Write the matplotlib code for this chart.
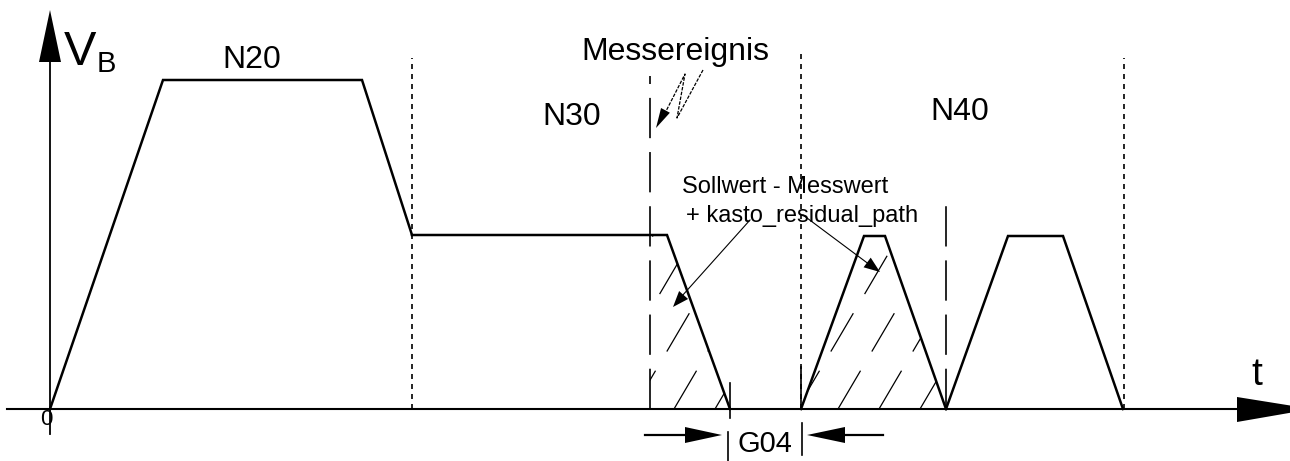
import numpy as np
import matplotlib.pyplot as plt
from matplotlib.patches import Polygon

plt.rcParams['font.family'] = ['Liberation Sans', 'DejaVu Sans']
plt.rcParams['lines.scale_dashes'] = False

# velocity profile per block (t, v)
n20_t = [0, 113, 312, 362]
n20_v = [0, 329, 329, 174]
n30_t = [362, 617, 680]
n30_v = [174, 174, 0]
n40a_t = [751, 814, 835, 896]
n40a_v = [0, 173, 173, 0]
n40b_t = [896, 958, 1013, 1073]
n40b_v = [0, 173, 173, 0]

# block boundaries (dotted) and event / dwell markers (long dash)
block_t = [362, 751, 1074]
block_top = [351, 357, 351]
event_t = 600      # Messereignis
dwell_end_t = 896  # end of G04 dwell

k = 'black'


def head(ax, tail, tip, length=18, half=5):
    # filled arrow head pointing from tail to tip
    tail = np.array(tail, float)
    tip = np.array(tip, float)
    u = (tip - tail) / np.hypot(*(tip - tail))
    p = np.array([u[1], -u[0]]) * half
    base = tip - u * length
    ax.add_patch(Polygon([tip, base + p, base - p], closed=True, color=k, lw=0))


fig = plt.figure(figsize=(12.9, 4.61), dpi=100)
ax = fig.add_axes([0, 0, 1, 1])
ax.set_xlim(-50, 1240)
ax.set_ylim(-52, 409)
ax.axis('off')

# axes with arrow heads
ax.plot([-43, 1190], [0, 0], color=k, lw=1.5)
ax.add_patch(Polygon([(1187, 12), (1187, -13), (1262, 0)], closed=True, color=k, lw=0))
ax.plot([0, 0], [-25, 350], color=k, lw=1.3)
ax.add_patch(Polygon([(-11, 347), (11, 347), (0, 399)], closed=True, color=k, lw=0))

ax.text(14, 344, 'V', fontsize=35, ha='left', va='baseline')
ax.text(47, 337, 'B', fontsize=21, ha='left', va='baseline')
ax.text(1207, 24, 't', fontsize=28, ha='center', va='baseline')
ax.text(-4, -10, '0', fontsize=16, ha='center', va='center')

# velocity profile
for t, v in [(n20_t, n20_v), (n30_t, n30_v), (n40a_t, n40a_v), (n40b_t, n40b_v)]:
    ax.plot(t, v, color=k, lw=1.8, solid_joinstyle='miter')

# block boundaries
for t, top in zip(block_t, block_top):
    ax.plot([t, t], [0, top], color=k, lw=1.2, linestyle=(0, (3.6, 3.6)))
ax.plot([751, 751], [0, 42], color=k, lw=1.2)
ax.plot([680, 680], [-9, 26], color=k, lw=1.2)

# measuring event and dwell end
ax.plot([event_t, event_t], [0, 333], color=k, lw=1.2, linestyle=(0, (29, 10)))
ax.plot([dwell_end_t, dwell_end_t], [0, 212], color=k, lw=1.2, linestyle=(0, (29, 10)))

# hatched residual path areas
regions = [
    [(event_t, 0), (event_t, 174), (617, 174), (680, 0)],
    [(751, 0), (814, 173), (835, 173), (896, 0)],
]
slope = 1.7
for reg in regions:
    clip = Polygon(reg, closed=True, facecolor='none', edgecolor='none')
    ax.add_patch(clip)
    for t0 in np.arange(460, 900, 41):
        ln, = ax.plot([t0, t0 + 200 / slope], [0, 200], color=k, lw=0.9,
                      linestyle=(0, (32, 16)))
        ln.set_clip_path(clip)

# labels
ax.text(202, 341, 'N20', fontsize=23, ha='center', va='baseline')
ax.text(522, 284, 'N30', fontsize=23, ha='center', va='baseline')
ax.text(910, 289, 'N40', fontsize=23, ha='center', va='baseline')
ax.text(625, 349, 'Messereignis', fontsize=23, ha='center', va='baseline')

# lightning symbol of the measuring event
bolt_t = [653, 627, 635, 612]
bolt_v = [339, 291, 335, 290]
ax.plot(bolt_t, bolt_v, color=k, lw=0.9, linestyle=(0, (2.5, 1)))
head(ax, (635, 335), (606, 281), length=20, half=5)

ax.text(632, 216, 'Sollwert - Messwert', fontsize=17, ha='left', va='baseline')
ax.text(636, 187, '+ kasto_residual_path', fontsize=17, ha='left', va='baseline')
ax.plot([700, 632], [189, 113], color=k, lw=0.8)
head(ax, (700, 189), (623, 102), length=16, half=6)
ax.plot([753, 820], [194, 144], color=k, lw=0.8)
head(ax, (753, 194), (830, 137), length=16, half=6)

# G04 dwell time
ax.text(715, -43, 'G04', fontsize=21, ha='center', va='baseline')
ax.plot([678, 678], [-23, -52], color=k, lw=1.2)
ax.plot([752, 752], [-14, -46], color=k, lw=1.2)
ax.plot([595, 640], [-26, -26], color=k, lw=1.6)
ax.add_patch(Polygon([(635, -18), (635, -34), (672, -26)], closed=True, color=k, lw=0))
ax.plot([790, 833], [-26, -26], color=k, lw=1.6)
ax.add_patch(Polygon([(795, -18), (795, -34), (757, -26)], closed=True, color=k, lw=0))

fig.savefig('out.png', dpi=100)
